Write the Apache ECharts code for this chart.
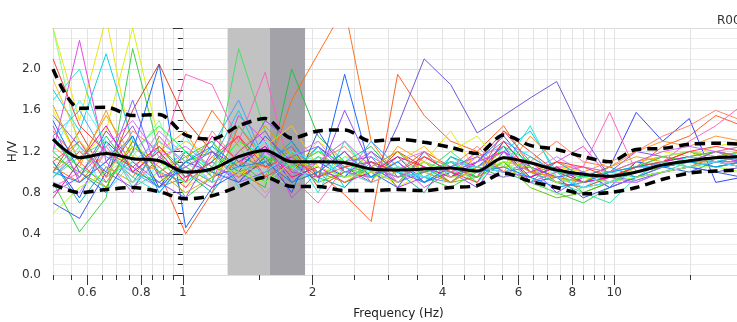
<!DOCTYPE html>
<html>
<head>
<meta charset="utf-8">
<script src="https://cdn.jsdelivr.net/npm/echarts@6/dist/echarts.min.js"></script>
<style>
  html, body { margin: 0; padding: 0; background: #fff; }
  #hv { width: 737px; height: 322px; }
</style>
</head>
<body>
<div id="hv"></div>
<script>
// frequency samples (Hz)
var freqs = [0.500, 0.576, 0.664, 0.765, 0.881, 1.015, 1.169, 1.347, 1.552, 1.788, 2.059, 2.372, 2.733, 3.148,
  3.627, 4.178, 4.813, 5.545, 6.388, 7.359, 8.477, 9.766, 11.25, 12.96, 14.93, 17.20, 19.81];

// average H/V and +/- std curves
var hvMean = [1.32, 1.14, 1.18, 1.13, 1.11, 1.00, 1.03, 1.15, 1.21, 1.10, 1.10, 1.09, 1.03, 1.02,
  1.03, 1.04, 1.01, 1.14, 1.09, 1.02, 0.98, 0.96, 1.00, 1.07, 1.11, 1.14, 1.15];
var hvUpper = [2.00, 1.62, 1.63, 1.55, 1.56, 1.36, 1.32, 1.45, 1.52, 1.33, 1.40, 1.41, 1.30, 1.32,
  1.29, 1.24, 1.18, 1.36, 1.26, 1.22, 1.15, 1.10, 1.22, 1.23, 1.27, 1.28, 1.27];
var hvLower = [0.88, 0.80, 0.83, 0.85, 0.81, 0.74, 0.77, 0.86, 0.95, 0.86, 0.86, 0.82, 0.82, 0.83,
  0.82, 0.85, 0.87, 0.99, 0.91, 0.85, 0.79, 0.80, 0.85, 0.93, 0.99, 1.01, 1.02];

// individual windows
var win01 = [1.05, 0.90, 1.20, 0.95, 1.30, 1.10, 1.60, 1.25, 0.95, 1.70, 2.15, 2.60, 1.30, 0.95, 1.10, 0.90, 1.05, 1.20, 1.00, 0.95, 0.90, 1.00, 1.10, 1.15, 1.20, 1.10, 1.15];
var win02 = [1.40, 1.10, 0.85, 1.30, 1.00, 0.40, 0.80, 1.45, 1.10, 0.90, 1.00, 0.78, 0.52, 1.95, 1.55, 1.30, 1.20, 1.45, 1.05, 0.95, 0.85, 0.90, 1.05, 1.25, 1.35, 1.55, 1.45];
var win03 = [0.95, 1.20, 1.00, 0.85, 1.15, 0.95, 1.10, 0.90, 1.20, 1.00, 1.25, 1.05, 0.90, 1.45, 2.10, 1.85, 1.38, 1.55, 1.72, 1.88, 1.35, 0.95, 0.92, 1.00, 1.05, 1.00, 1.05];
var win04 = [1.10, 0.75, 1.30, 1.05, 0.85, 1.20, 0.95, 1.05, 1.25, 0.90, 1.10, 0.95, 1.20, 1.00, 0.90, 1.05, 0.95, 1.30, 1.00, 0.90, 0.95, 1.05, 1.58, 1.30, 1.52, 0.90, 0.95];
var win05 = [2.40, 1.50, 2.50, 1.20, 0.90, 1.05, 1.25, 0.95, 1.15, 1.00, 1.30, 1.10, 0.95, 1.00, 1.10, 1.40, 1.00, 1.15, 0.95, 1.05, 1.00, 0.90, 1.05, 1.10, 1.15, 1.20, 1.25];
var win06 = [1.60, 1.10, 1.40, 2.40, 1.30, 0.85, 1.00, 1.30, 1.10, 1.20, 0.95, 1.15, 1.10, 0.85, 1.00, 1.20, 1.35, 1.05, 1.10, 0.95, 1.00, 0.90, 1.10, 1.20, 1.15, 1.25, 1.30];
var win07 = [1.20, 2.28, 1.10, 0.80, 1.35, 1.05, 0.90, 1.55, 1.30, 0.75, 1.00, 1.20, 0.95, 1.10, 0.85, 1.00, 1.20, 1.00, 0.95, 1.10, 1.25, 0.95, 0.90, 1.00, 1.05, 1.15, 1.10];
var win08 = [1.80, 1.40, 2.15, 1.30, 1.00, 0.90, 1.10, 1.60, 1.05, 0.95, 1.25, 0.85, 1.15, 1.00, 0.95, 1.10, 0.90, 1.20, 1.40, 1.00, 0.90, 1.00, 0.95, 1.10, 1.15, 1.10, 1.15];
var win09 = [0.90, 0.42, 0.75, 2.20, 1.20, 0.75, 0.95, 1.10, 0.90, 1.15, 1.00, 0.90, 1.05, 1.20, 0.95, 0.85, 1.00, 1.10, 0.90, 0.80, 0.70, 0.85, 0.95, 1.05, 1.10, 1.05, 1.10];
var win10 = [1.00, 1.30, 0.95, 1.10, 0.85, 1.05, 0.90, 2.20, 1.40, 1.00, 1.15, 0.95, 1.05, 0.90, 1.10, 1.00, 0.95, 1.10, 1.05, 0.90, 0.85, 0.95, 1.00, 1.10, 1.05, 1.10, 1.15];
var win11 = [1.20, 0.95, 1.35, 1.00, 0.90, 1.10, 1.20, 1.00, 0.85, 2.00, 1.35, 1.10, 1.25, 0.95, 1.00, 1.10, 1.05, 0.95, 1.15, 1.00, 0.80, 0.90, 1.00, 1.05, 1.15, 1.20, 1.10];
var win12 = [0.85, 1.00, 1.25, 0.90, 1.10, 1.95, 1.85, 1.30, 1.97, 0.95, 0.70, 1.05, 1.20, 0.90, 1.05, 0.95, 1.15, 1.25, 1.00, 1.05, 1.05, 1.58, 1.00, 1.10, 1.30, 1.45, 1.65];
var win13 = [1.50, 1.00, 0.80, 1.20, 2.05, 0.46, 0.85, 1.00, 1.35, 1.10, 0.90, 1.95, 1.00, 0.85, 1.20, 0.95, 1.05, 1.25, 0.90, 0.95, 1.00, 0.85, 1.10, 1.05, 1.00, 1.10, 1.05];
var win14 = [1.00, 1.40, 0.95, 1.60, 2.05, 1.50, 1.20, 0.95, 1.10, 1.25, 0.85, 1.00, 0.95, 1.20, 1.05, 0.90, 1.10, 1.40, 1.20, 1.00, 0.90, 0.95, 1.05, 1.10, 1.20, 1.15, 1.20];
var win15 = [1.70, 2.00, 1.20, 0.95, 0.80, 1.10, 1.30, 0.85, 1.00, 1.20, 0.80, 1.30, 0.95, 1.05, 0.90, 1.15, 1.00, 1.05, 1.45, 0.95, 0.85, 0.90, 1.00, 1.10, 1.05, 1.10, 1.05];
var win16 = [0.80, 0.95, 1.40, 1.10, 0.90, 0.75, 1.20, 1.05, 1.50, 1.30, 0.95, 1.60, 1.05, 0.90, 1.15, 1.00, 0.85, 1.20, 1.05, 0.80, 0.95, 1.00, 1.20, 1.15, 1.10, 1.20, 1.15];
var win17 = [2.40, 1.20, 1.00, 1.15, 1.50, 0.90, 1.05, 1.25, 1.00, 0.85, 1.10, 1.30, 1.00, 1.15, 0.95, 1.05, 0.90, 1.10, 0.95, 0.78, 0.85, 0.90, 1.05, 1.15, 1.20, 1.15, 1.20];
var win18 = [1.10, 0.70, 1.05, 0.90, 1.25, 1.00, 0.80, 1.15, 1.05, 1.30, 0.95, 0.85, 1.10, 1.00, 0.80, 1.15, 1.05, 1.00, 0.90, 1.10, 0.95, 1.05, 0.95, 1.05, 1.10, 1.05, 1.10];
var win19 = [1.25, 1.05, 1.60, 1.00, 1.20, 1.40, 0.95, 1.10, 0.80, 1.05, 1.20, 1.00, 0.90, 1.25, 1.10, 0.95, 1.20, 1.00, 1.35, 1.10, 1.00, 1.10, 1.20, 1.30, 1.25, 1.35, 1.30];
var win20 = [0.70, 0.55, 1.00, 1.35, 0.85, 1.10, 1.00, 0.90, 1.15, 0.80, 1.40, 1.00, 0.95, 1.15, 0.90, 1.00, 1.10, 1.35, 1.05, 0.95, 0.75, 0.85, 0.95, 1.00, 1.05, 1.00, 0.95];
var win21 = [1.10, 1.30, 0.90, 1.25, 1.05, 0.85, 1.15, 1.35, 0.95, 1.10, 1.00, 1.20, 0.90, 1.00, 1.20, 1.05, 0.95, 1.40, 1.10, 0.90, 0.85, 0.95, 1.05, 1.15, 1.10, 1.20, 1.15];
var win22 = [0.95, 1.15, 1.30, 0.85, 1.00, 1.20, 1.05, 1.45, 1.15, 0.90, 1.15, 1.05, 0.95, 1.05, 1.00, 1.20, 1.00, 1.15, 1.00, 0.90, 0.80, 0.70, 0.95, 1.00, 1.10, 1.05, 1.10];
var win23 = [1.45, 0.90, 1.10, 1.45, 0.95, 1.00, 0.85, 1.20, 1.40, 1.00, 0.95, 1.10, 1.15, 0.85, 0.95, 1.10, 1.05, 1.00, 0.95, 1.05, 0.90, 0.95, 1.00, 1.05, 1.10, 1.15, 1.10];
var win24 = [1.90, 1.30, 1.05, 0.90, 1.10, 1.30, 1.15, 0.95, 1.25, 1.45, 1.05, 0.95, 1.00, 1.10, 1.25, 1.00, 1.15, 1.05, 0.90, 1.00, 1.05, 1.00, 1.10, 1.15, 1.10, 1.20, 1.15];
var win25 = [1.15, 1.00, 0.85, 1.30, 1.00, 1.15, 1.30, 1.00, 1.10, 1.20, 0.90, 1.00, 1.05, 0.95, 1.05, 0.90, 0.95, 1.10, 0.85, 0.75, 0.80, 0.90, 1.00, 1.05, 1.10, 1.10, 1.05];
var win26 = [1.35, 1.60, 1.15, 1.00, 0.85, 0.95, 1.25, 1.70, 1.10, 1.25, 1.00, 0.95, 1.30, 1.05, 0.95, 0.90, 1.10, 1.30, 1.15, 1.00, 0.95, 1.00, 1.05, 1.10, 1.15, 1.10, 1.15];
var win27 = [0.90, 0.80, 1.20, 1.00, 1.40, 1.15, 0.90, 1.00, 0.75, 1.15, 1.30, 1.00, 0.95, 1.10, 1.20, 0.95, 1.00, 0.95, 1.00, 1.15, 1.00, 0.90, 0.90, 1.00, 1.05, 1.10, 1.05];
var win28 = [1.00, 1.20, 0.95, 1.40, 1.20, 0.90, 1.40, 1.10, 1.05, 0.95, 1.10, 1.25, 1.00, 0.90, 1.15, 1.05, 1.25, 1.00, 1.10, 1.30, 1.10, 1.05, 1.20, 1.35, 1.45, 1.60, 1.50];
var win29 = [1.30, 1.05, 0.90, 1.20, 1.45, 1.20, 1.00, 1.30, 1.15, 1.05, 1.20, 1.10, 0.95, 1.05, 1.00, 1.10, 0.95, 1.25, 1.10, 1.00, 0.95, 1.00, 1.05, 1.15, 1.10, 1.15, 1.20];
var win30 = [0.75, 1.10, 1.45, 1.00, 1.20, 0.90, 1.35, 1.10, 1.25, 0.95, 1.05, 0.90, 1.00, 1.15, 1.05, 0.95, 1.10, 1.20, 0.95, 1.05, 0.90, 0.95, 1.00, 1.10, 1.15, 1.10, 1.10];
var win31 = [1.55, 1.25, 1.00, 1.70, 0.95, 1.05, 1.20, 0.90, 1.00, 1.15, 1.25, 1.00, 1.10, 0.90, 1.00, 1.05, 1.15, 1.00, 1.05, 0.95, 1.00, 0.85, 0.95, 1.05, 1.10, 1.20, 1.15];
var win32 = [1.20, 1.70, 1.30, 0.90, 1.05, 1.35, 0.95, 1.15, 1.30, 1.05, 0.90, 1.15, 1.00, 1.05, 0.95, 1.00, 1.05, 1.15, 1.20, 0.95, 0.85, 1.00, 1.05, 1.05, 1.15, 1.10, 1.20];
var win33 = [0.60, 0.85, 1.00, 1.25, 1.10, 0.90, 1.05, 1.00, 0.90, 1.10, 1.05, 0.95, 1.00, 0.90, 1.10, 0.95, 1.00, 1.10, 1.05, 0.90, 0.95, 0.90, 0.95, 1.00, 1.05, 1.05, 1.00];
var win34 = [2.10, 1.45, 1.20, 1.05, 1.25, 0.95, 1.10, 1.35, 1.05, 1.15, 0.95, 1.05, 1.10, 1.00, 1.15, 1.00, 0.90, 1.30, 1.00, 1.10, 1.05, 0.95, 1.05, 1.10, 1.20, 1.25, 1.20];
var win35 = [1.00, 0.90, 1.10, 1.35, 0.80, 1.10, 1.25, 1.05, 1.10, 0.90, 1.00, 1.20, 0.95, 1.10, 0.90, 1.05, 1.00, 1.05, 0.95, 0.85, 0.90, 1.00, 1.05, 1.05, 1.10, 1.05, 1.10];
var win36 = [1.65, 1.10, 1.55, 1.15, 1.00, 0.80, 0.95, 1.20, 1.45, 1.15, 1.00, 0.90, 1.05, 1.20, 1.00, 0.90, 1.05, 1.15, 1.00, 0.95, 0.90, 1.05, 1.15, 1.10, 1.05, 1.15, 1.20];
var win37 = [0.95, 1.25, 0.80, 1.10, 1.30, 1.10, 0.90, 1.05, 1.00, 1.20, 1.10, 1.00, 0.90, 1.00, 0.95, 1.10, 1.05, 1.00, 1.10, 1.00, 0.85, 0.90, 1.00, 1.10, 1.05, 1.10, 1.05];
var win38 = [1.35, 0.95, 1.25, 1.50, 1.15, 1.25, 1.05, 0.95, 1.20, 1.00, 1.10, 1.30, 1.05, 0.95, 1.05, 1.00, 1.10, 1.20, 0.90, 1.00, 1.05, 1.00, 1.10, 1.20, 1.25, 1.20, 1.25];

var windows = [win01, win02, win03, win04, win05, win06, win07, win08, win09, win10, win11, win12, win13, win14,
  win15, win16, win17, win18, win19, win20, win21, win22, win23, win24, win25, win26, win27, win28,
  win29, win30, win31, win32, win33, win34, win35, win36, win37, win38];
var winColors = ['#ff6a10', '#ff5a1f', '#6a4fd8', '#2a3cff', '#f0e000', '#d8f000', '#e040e0', '#00d0e0',
  '#30d040', '#40e060', '#20c040', '#ff60c0', '#1060ff', '#d04020', '#20e0d0', '#9040ff', '#80ff80', '#00b0a0',
  '#ff9020', '#3050e0', '#ff4060', '#30e0a0', '#b040e0', '#ffc020', '#60c000', '#40a0ff', '#c080ff', '#ff8060',
  '#00ff40', '#ff00a0', '#8060ff', '#40ffff', '#a0ff20', '#ff3030', '#0090ff', '#e0a000', '#50e0ff', '#d060ff'];

// peak frequency bands (Hz)
var bandLight = [1.27, 1.59];
var bandDark = [1.59, 1.92];

// axis ticks (Hz)
var xMinorTicks = [0.5, 0.55, 0.6, 0.65, 0.7, 0.75, 0.8, 0.85, 0.9, 0.95, 1, 1.5, 2, 2.5, 3, 3.5, 4, 4.5, 5, 5.5,
  6, 6.5, 7, 7.5, 8, 8.5, 9, 9.5, 10, 15, 20];
var xMajorTicks = [0.6, 0.8, 1, 2, 4, 6, 8, 10, 20];
var xRange = [0.5, 20];
var yRange = [0, 2.4];

var lg = function (f) { return Math.log10(f); };
var toPairs = function (vals) { return freqs.map(function (f, i) { return [lg(f), vals[i]]; }); };
var fmtHz = function (v) { return String(+Math.pow(10, v).toPrecision(2)); };

var chart = echarts.init(document.getElementById('hv'), null, { renderer: 'canvas' });

var series = [];
series.push({
  name: 'bands',
  type: 'line',
  data: [],
  markArea: {
    silent: true,
    z: 1,
    data: [
      [{ xAxis: lg(bandLight[0]), itemStyle: { color: '#c2c2c2', opacity: 1 } }, { xAxis: lg(bandLight[1]) }],
      [{ xAxis: lg(bandDark[0]), itemStyle: { color: '#a2a2a8', opacity: 1 } }, { xAxis: lg(bandDark[1]) }]
    ]
  }
});
windows.forEach(function (w, i) {
  series.push({
    type: 'line',
    data: toPairs(w),
    showSymbol: false,
    z: 2,
    lineStyle: { width: 1, color: winColors[i], opacity: 0.95 }
  });
});
var curveStyle = function (vals, dashed) {
  return {
    type: 'line',
    data: toPairs(vals),
    smooth: 0.3,
    showSymbol: false,
    z: 5,
    lineStyle: { width: dashed ? 3.5 : 3, color: '#000', type: dashed ? [10, 6] : 'solid' }
  };
};
series.push(curveStyle(hvUpper, true));
series.push(curveStyle(hvLower, true));
series.push(curveStyle(hvMean, false));

var baseX = {
  type: 'value',
  min: lg(xRange[0]),
  max: lg(xRange[1]),
  position: 'bottom',
  axisLine: { show: false }
};

var option = {
  animation: false,
  title: {
    text: 'R001',
    left: 712,
    top: 10,
    textStyle: { fontSize: 12, fontWeight: 'normal', color: '#333', fontFamily: 'DejaVu Sans' }
  },
  grid: { left: 53, top: 28, width: 691, height: 247, containLabel: false, outerBoundsMode: 'none' },
  xAxis: [
    Object.assign({}, baseX, {
      axisTick: { show: true, length: 5, customValues: xMinorTicks.map(lg), lineStyle: { color: '#333' } },
      axisLabel: { show: false },
      splitLine: { show: true, lineStyle: { color: '#e2e2e2', width: 1 } }
    }),
    Object.assign({}, baseX, {
      name: 'Frequency (Hz)',
      nameLocation: 'middle',
      nameGap: 33,
      nameTextStyle: { fontSize: 12, color: '#222', fontFamily: 'DejaVu Sans' },
      axisTick: { show: true, length: 10, customValues: xMajorTicks.map(lg), lineStyle: { color: '#333' } },
      axisLabel: {
        customValues: xMajorTicks.map(lg),
        formatter: fmtHz,
        margin: 12,
        fontSize: 12,
        color: '#333',
        fontFamily: 'DejaVu Sans'
      },
      splitLine: { show: false }
    })
  ],
  yAxis: {
    type: 'value',
    min: yRange[0],
    max: yRange[1],
    interval: 0.4,
    name: 'H/V',
    nameLocation: 'middle',
    nameGap: 34,
    nameMoveOverlap: false,
    nameTextStyle: { fontSize: 12, color: '#222', fontFamily: 'DejaVu Sans' },
    axisLine: { show: false },
    axisTick: { show: true, length: 10, lineStyle: { color: '#333' } },
    minorTick: { show: true, splitNumber: 4, length: 5, lineStyle: { color: '#333' } },
    axisLabel: {
      showMaxLabel: false,
      margin: 12,
      fontSize: 12,
      color: '#333',
      fontFamily: 'DejaVu Sans',
      formatter: function (v) { return v.toFixed(1); }
    },
    splitLine: { show: true, lineStyle: { color: '#dcdcdc' } },
    minorSplitLine: { show: true, lineStyle: { color: '#ececec' } }
  },
  series: series
};

chart.setOption(option);
</script>
</body>
</html>
